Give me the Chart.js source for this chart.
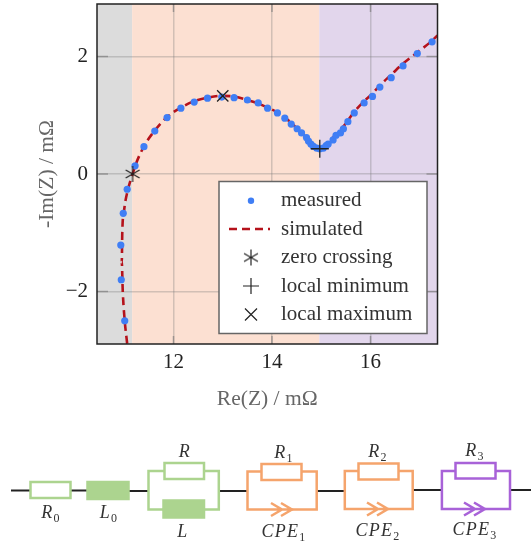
<!DOCTYPE html>
<html><head><meta charset="utf-8">
<script src="https://cdn.jsdelivr.net/npm/chart.js@4"></script>
<style>
html,body{margin:0;padding:0;background:#fff}
#wrap{position:relative;width:531px;height:545px;overflow:hidden}
canvas{position:absolute;left:0;top:0}
svg{position:absolute;left:0;top:0}
svg text{font-family:"Liberation Serif",serif;font-style:italic;font-size:18px;fill:#333;letter-spacing:1.3px;text-anchor:middle}
</style></head><body>
<div id="wrap"><canvas id="c" width="531" height="545"></canvas>
<svg width="531" height="545" viewBox="0 0 531 545" fill="none">
<g stroke="#222" stroke-width="2">
<path d="M11 490.5H30M70 490.5H87M129 491H148M219 491H247M317 491H344.5M413 490H441.5M510 490H531"/></g>
<g stroke="#acd48f" stroke-width="2.5">
<rect x="30.5" y="482" width="40" height="16" fill="#fff"/>
<rect x="87.5" y="482" width="41" height="17" fill="#acd48f"/>
<path d="M164 471H148.5V509.5H163M204 471H218.8V509.5H204"/>
<rect x="164.5" y="463" width="39.500" height="16" fill="#fff"/>
<rect x="163.5" y="500.500" width="40.500" height="17" fill="#acd48f"/>
</g>
<g stroke="#f5a46c" stroke-width="2.500">
<path d="M261 471.500H247.500V509.500H270M292 509.500H316.700V471.500H301"/>
<rect x="261.500" y="464" width="40" height="16" fill="#fff"/>
<path d="M271 503L282 509.500L271 516M281 503L292 509.500L281 516M270 509.500H290"/>
<path d="M358 471H344.800V509H367M388 509H412.700V471H398"/>
<rect x="358.500" y="463.500" width="40" height="16" fill="#fff"/>
<path d="M367 502.500L378 509L367 515.500M377 502.500L388 509L377 515.500M367 509H386"/>
</g>
<g stroke="#a862d8" stroke-width="2.500">
<path d="M455 471H441.900V509H464M485 509H510V471H495"/>
<rect x="455.500" y="463" width="40" height="15.500" fill="#fff"/>
<path d="M464 502.500L475 509L464 515.500M474 502.500L485 509L474 515.500M464 509H483"/>
</g>
<text x="51" y="518">R<tspan dy="4" font-size="12" font-style="normal">0</tspan></text>
<text x="109" y="518">L<tspan dy="4" font-size="12" font-style="normal">0</tspan></text>
<text x="185" y="457">R</text>
<text x="183" y="537">L</text>
<text x="284" y="458">R<tspan dy="4" font-size="12" font-style="normal">1</tspan></text>
<text x="378" y="457">R<tspan dy="4" font-size="12" font-style="normal">2</tspan></text>
<text x="475" y="456">R<tspan dy="4" font-size="12" font-style="normal">3</tspan></text>
<text x="284" y="537">CPE<tspan dy="4" font-size="12" font-style="normal">1</tspan></text>
<text x="378" y="536">CPE<tspan dy="4" font-size="12" font-style="normal">2</tspan></text>
<text x="475" y="535">CPE<tspan dy="4" font-size="12" font-style="normal">3</tspan></text>
</svg></div>
<script>
const measuredRe=[11.01,10.94,10.93,10.98,11.06,11.22,11.40,11.62,11.87,12.15,12.42,12.69,12.98,13.23,13.50,13.72,13.91,14.11,14.26,14.39,14.51,14.60,14.70,14.74,14.79,14.84,14.91,14.97,15.04,15.10,15.14,15.24,15.30,15.39,15.45,15.54,15.67,15.87,16.04,16.19,16.42,16.66,16.95,17.25];
const measuredIm=[-2.50,-1.80,-1.21,-0.67,-0.26,0.14,0.465,0.73,0.96,1.12,1.225,1.29,1.31,1.30,1.26,1.21,1.12,1.04,0.95,0.85,0.77,0.70,0.62,0.56,0.51,0.47,0.44,0.43,0.44,0.485,0.51,0.58,0.66,0.70,0.77,0.89,1.04,1.21,1.32,1.48,1.64,1.84,2.05,2.25];
const simulatedRe=[11.06,11.01,10.97,10.95,10.96,11.00,11.08,11.17,11.25,11.42,11.62,11.87,12.15,12.42,12.69,12.98,13.23,13.50,13.72,13.91,14.11,14.26,14.39,14.51,14.60,14.70,14.79,14.88,14.97,15.06,15.15,15.30,15.45,15.67,15.87,16.04,16.19,16.42,16.66,16.95,17.25,17.36];
const simulatedIm=[-2.89,-2.50,-2.00,-1.50,-1.00,-0.60,-0.25,0,0.20,0.50,0.74,0.97,1.13,1.24,1.30,1.33,1.32,1.26,1.20,1.13,1.05,0.96,0.87,0.77,0.70,0.62,0.53,0.47,0.43,0.46,0.53,0.68,0.81,1.06,1.24,1.37,1.51,1.69,1.88,2.07,2.27,2.36];
const zeroCrossing=[{x:11.17,y:0}];
const localMinimum=[{x:14.97,y:0.43}];
const localMaximum=[{x:13.0,y:1.33}];
const xTicks=[12,14,16], yTicks=[-2,0,2];
const bandEdges=[11.16,14.96];
const bandColors=['#dcdcdc','#fce0d2','#e2d6ec'];
const seriesLabels=['measured','simulated','zero crossing','local minimum','local maximum'];
const zip=(a,b)=>a.map((v,i)=>({x:v,y:b[i]}));
const dark='#222';
function asterisk(r){
  const s=2*r+4,c=document.createElement('canvas');c.width=c.height=s;
  const g=c.getContext('2d');g.strokeStyle=dark;g.lineWidth=1.2;g.translate(s/2,s/2);
  for(let i=0;i<3;i++){g.beginPath();const a=Math.PI/2+i*Math.PI/3;
    g.moveTo(Math.cos(a)*r,Math.sin(a)*r);g.lineTo(-Math.cos(a)*r,-Math.sin(a)*r);g.stroke();}
  return c;
}
const star=asterisk(8);
const bands={id:'bands',beforeDraw(ch){
  const {ctx,chartArea:a,scales:{x}}=ch;
  const e=[a.left,...bandEdges.map(v=>x.getPixelForValue(v)),a.right];
  bandColors.forEach((col,i)=>{ctx.fillStyle=col;ctx.fillRect(e[i],a.top,e[i+1]-e[i],a.bottom-a.top);});
}};
const inner={id:'inner',afterDatasetsDraw(ch){
  const {ctx,chartArea:a,scales:{x,y}}=ch;
  ctx.save();ctx.strokeStyle='rgba(110,110,110,.55)';ctx.lineWidth=1.5;ctx.beginPath();
  xTicks.forEach(v=>{const p=x.getPixelForValue(v);ctx.moveTo(p,a.bottom);ctx.lineTo(p,a.bottom-8);ctx.moveTo(p,a.top);ctx.lineTo(p,a.top+8);});
  yTicks.forEach(v=>{const p=y.getPixelForValue(v);ctx.moveTo(a.left,p);ctx.lineTo(a.left+11,p);ctx.moveTo(a.right,p);ctx.lineTo(a.right-11,p);});
  ctx.stroke();
  ctx.setLineDash([]);ctx.strokeStyle=dark;ctx.lineWidth=1.5;ctx.strokeRect(a.left,a.top,a.right-a.left,a.bottom-a.top);
  ctx.restore();
}};
const boxLegend={id:'boxLegend',afterDraw(ch){
  const {ctx}=ch,H=Chart.helpers;
  ctx.save();
  ctx.fillStyle='#fff';ctx.strokeStyle='#666';ctx.lineWidth=1.5;
  ctx.fillRect(219,181.5,208,152);ctx.strokeRect(219,181.5,208,152);
  const ys=[200.7,229,257.5,286,314.5],mx=251;
  ctx.font='21px "Liberation Serif",serif';ctx.textBaseline='middle';ctx.textAlign='left';
  seriesLabels.forEach((t,i)=>{ctx.fillStyle='#333';ctx.fillText(t,281,ys[i]);});
  ctx.fillStyle='#3f7ef5';ctx.beginPath();ctx.arc(mx,ys[0],3.2,0,7);ctx.fill();
  ctx.strokeStyle='#b5121b';ctx.lineWidth=2.4;ctx.setLineDash([8,5]);ctx.beginPath();ctx.moveTo(229,ys[1]);ctx.lineTo(270,ys[1]);ctx.stroke();ctx.setLineDash([]);
  ctx.strokeStyle=dark;ctx.lineWidth=1.2;
  ctx.drawImage(star,mx-star.width/2,ys[2]-star.height/2);
  H.drawPoint(ctx,{radius:8,pointStyle:'cross',borderWidth:1.2,rotation:0},mx,ys[3]);
  H.drawPoint(ctx,{radius:8.500,pointStyle:'crossRot',borderWidth:1.2,rotation:0},mx,ys[4]);
  ctx.restore();
}};
const marker=(label,data,style,r)=>({label,data,order:0,showLine:false,pointStyle:style,pointRadius:r,pointBorderColor:dark,pointBackgroundColor:dark,pointBorderWidth:1.3,clip:false});
new Chart(document.getElementById('c'),{
  type:'scatter',
  data:{datasets:[
    {label:seriesLabels[0],data:zip(measuredRe,measuredIm),order:1,pointStyle:'circle',pointRadius:3.6,pointBorderWidth:0,pointBackgroundColor:'#3f7ef5',showLine:false},
    {label:seriesLabels[1],data:zip(simulatedRe,simulatedIm),order:2,showLine:true,pointRadius:0,borderColor:'#b5121b',borderWidth:2.6,borderDash:[8,5],cubicInterpolationMode:'monotone',tension:.4},
    marker(seriesLabels[2],zeroCrossing,star,8),
    marker(seriesLabels[3],localMinimum,'cross',9),
    marker(seriesLabels[4],localMaximum,'crossRot',8)
  ]},
  plugins:[bands,inner,boxLegend],
  options:{
    responsive:false,animation:false,
    layout:{autoPadding:false,padding:{left:0,top:4,right:93.5,bottom:133}},
    plugins:{legend:{display:false},tooltip:{enabled:false}},
    scales:{
      x:{type:'linear',min:10.447,max:17.36,
        afterBuildTicks(s){s.ticks=xTicks.map(v=>({value:v}));},
        afterFit(s){s.height=68;s.paddingLeft=0;s.paddingRight=0;},
        grid:{color:'rgba(120,120,120,.32)',lineWidth:1.5,drawTicks:false},border:{display:false},
        ticks:{padding:6,maxRotation:0,color:dark,font:{family:'"Liberation Serif",serif',size:21},callback:v=>String(v)},
        title:{display:true,text:'Re(Z) / mΩ',color:'#666',font:{family:'"Liberation Serif",serif',size:21.5},padding:{top:0,bottom:0}}},
      y:{type:'linear',min:-2.894,max:2.894,
        afterBuildTicks(s){s.ticks=yTicks.map(v=>({value:v}));},
        afterFit(s){s.width=97;s.paddingTop=0;s.paddingBottom=0;},
        grid:{color:'rgba(120,120,120,.32)',lineWidth:1.5,drawTicks:false},border:{display:false},
        ticks:{padding:9,color:dark,font:{family:'"Liberation Serif",serif',size:21},callback:v=>String(v).replace('-','\u2212')},
        title:{display:true,text:'-Im(Z) / mΩ',color:'#666',font:{family:'"Liberation Serif",serif',size:21.5},padding:{top:34,bottom:0}}}
    }
  }
});
</script></body></html>
